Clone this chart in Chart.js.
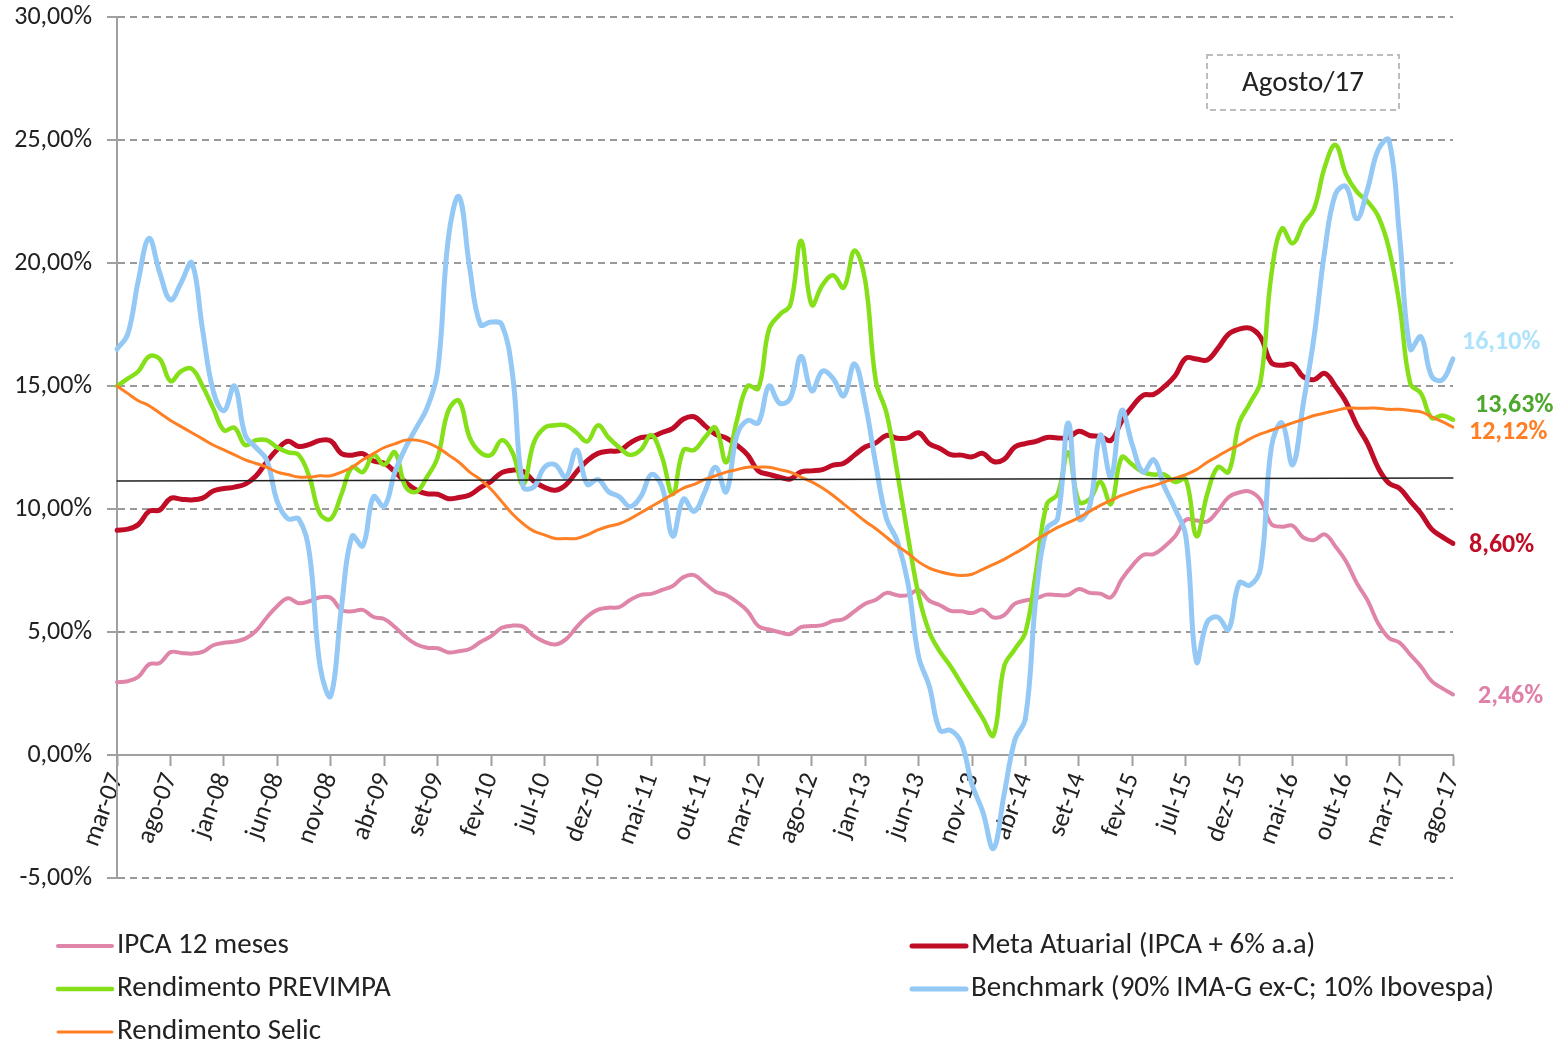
<!DOCTYPE html>
<html>
<head>
<meta charset="utf-8">
<script src="https://cdn.jsdelivr.net/npm/chart.js@4.4.1/dist/chart.umd.min.js"></script>
<style>
  html, body { margin: 0; padding: 0; background: #fff; }
  #wrap { width: 1561px; height: 1046px; }
</style>
</head>
<body>
<div id="wrap"><canvas id="grafico" width="1561" height="1046"></canvas></div>
<script>
// month labels mar-07 .. ago-17
const monthNames = ["jan", "fev", "mar", "abr", "mai", "jun", "jul", "ago", "set", "out", "nov", "dez"];
const months = [];
for (let i = 0; i < 126; i++) {
  const m = (2 + i) % 12;
  const y = 2007 + Math.floor((2 + i) / 12);
  months.push(monthNames[m] + "-" + String(y).slice(2));
}

const ipca = [
  2.96, 3.00, 3.18, 3.69, 3.74, 4.18, 4.15, 4.12, 4.19, 4.46,
  4.56, 4.61, 4.73, 5.04, 5.58, 6.06, 6.37, 6.17, 6.25, 6.41, 6.39, 5.90,
  5.84, 5.90, 5.61, 5.53, 5.20, 4.80, 4.50, 4.36, 4.34, 4.17, 4.22, 4.31,
  4.59, 4.83, 5.17, 5.26, 5.22, 4.84, 4.60, 4.49, 4.70, 5.20, 5.63, 5.91,
  5.99, 6.01, 6.30, 6.51, 6.55, 6.71, 6.87, 7.23, 7.31, 6.97, 6.64, 6.50,
  6.22, 5.85, 5.24, 5.10, 4.99, 4.92, 5.20, 5.24, 5.28, 5.45, 5.53, 5.84,
  6.15, 6.31, 6.59, 6.49, 6.50, 6.70, 6.27, 6.09, 5.86, 5.84, 5.77, 5.91,
  5.59, 5.68, 6.15, 6.28, 6.37, 6.52, 6.50, 6.51, 6.75, 6.59, 6.56, 6.41,
  7.14, 7.70, 8.13, 8.17, 8.47, 8.89, 9.56, 9.53, 9.49, 9.93, 10.48, 10.67,
  10.71, 10.36, 9.39, 9.28, 9.32, 8.84, 8.74, 8.97, 8.48, 7.87, 6.99, 6.29,
  5.35, 4.76, 4.57, 4.08, 3.60, 3.00, 2.71, 2.46
];

const metaAtuarial = [
  9.14, 9.18, 9.37, 9.91, 9.96, 10.43, 10.40, 10.37, 10.44, 10.73,
  10.83, 10.89, 11.01, 11.34, 11.91, 12.42, 12.75, 12.54, 12.63, 12.79, 12.77, 12.25,
  12.19, 12.25, 11.95, 11.86, 11.51, 11.09, 10.77, 10.62, 10.60, 10.42, 10.47, 10.57,
  10.87, 11.12, 11.48, 11.58, 11.53, 11.13, 10.88, 10.76, 10.98, 11.51, 11.97, 12.26,
  12.35, 12.37, 12.68, 12.90, 12.94, 13.11, 13.28, 13.66, 13.75, 13.39, 13.04, 12.89,
  12.59, 12.20, 11.55, 11.41, 11.29, 11.22, 11.51, 11.55, 11.60, 11.78, 11.86, 12.19,
  12.52, 12.69, 12.99, 12.88, 12.89, 13.10, 12.65, 12.46, 12.21, 12.19, 12.12, 12.26,
  11.93, 12.02, 12.52, 12.66, 12.75, 12.91, 12.89, 12.90, 13.16, 12.99, 12.95, 12.79,
  13.57, 14.16, 14.62, 14.66, 14.98, 15.42, 16.13, 16.10, 16.06, 16.53, 17.11, 17.31,
  17.35, 16.98, 15.95, 15.84, 15.88, 15.37, 15.26, 15.51, 14.99, 14.34, 13.41, 12.67,
  11.67, 11.05, 10.84, 10.32, 9.82, 9.18, 8.87, 8.60
];

const previmpa = [
  15.0, 15.3, 15.6, 16.2, 16.1, 15.2, 15.6, 15.7, 15.0, 14.1,
  13.2, 13.3, 12.6, 12.8, 12.8, 12.5, 12.3, 12.2, 11.3, 9.8,
  9.6, 10.6, 11.7, 11.5, 12.2, 11.8, 12.3, 10.9, 10.7, 11.3,
  12.1, 14.0, 14.4, 12.9, 12.3, 12.2, 12.8, 12.3, 11.0, 12.7,
  13.3, 13.4, 13.4, 13.1, 12.75, 13.4, 12.9, 12.5, 12.2, 12.4,
  13.0, 12.1, 10.6, 12.4, 12.4, 12.9, 13.3, 11.9, 13.6, 15.0,
  14.9, 17.3, 17.9, 18.3, 20.9, 18.3, 19.1, 19.5, 19.0, 20.5,
  19.3, 15.2, 13.9, 11.5, 8.9, 6.5, 5.0, 4.2, 3.6, 2.9,
  2.2, 1.5, 0.8, 3.6, 4.3, 5.0, 7.5, 10.2, 10.6, 12.3,
  10.3, 10.4, 11.1, 10.2, 12.1, 11.8, 11.5, 11.4, 11.4, 11.1,
  11.2, 8.9, 10.6, 11.7, 11.5, 13.5, 14.3, 15.2, 19.5, 21.4,
  20.8, 21.6, 22.2, 23.9, 24.8, 23.6, 22.9, 22.5, 21.9, 20.6,
  18.3, 15.1, 14.7, 13.7, 13.8, 13.63
];

const benchmark = [
  16.5, 17.1, 19.3, 21.0, 19.6, 18.5, 19.2, 20.0, 17.3, 14.8,
  14.0, 15.0, 13.0, 12.5, 12.0, 10.3, 9.6, 9.6, 8.2, 3.6,
  2.4, 6.0, 8.9, 8.5, 10.5, 10.1, 11.5, 12.5, 13.3, 14.1,
  15.6, 21.0, 22.7, 19.8, 17.5, 17.6, 17.5, 15.5, 10.9, 10.9,
  11.7, 11.8, 11.3, 12.4, 11.0, 11.2, 10.7, 10.5, 10.1, 10.5,
  11.4, 10.9, 8.9, 10.4, 9.9, 10.7, 11.7, 10.7, 13.0, 13.6,
  13.5, 15.0, 14.3, 14.5, 16.2, 14.8, 15.6, 15.3, 14.6, 15.9,
  14.3, 11.8, 9.6, 8.7, 7.0, 4.0, 2.8, 1.0, 1.0, 0.5,
  -1.2, -2.3, -3.8, -1.6, 0.6, 1.5, 6.5, 9.2, 9.6, 13.5,
  9.6, 10.1, 13.0, 11.3, 14.0, 12.6, 11.5, 12.0, 10.9, 10.0,
  8.9, 3.8, 5.4, 5.6, 5.1, 7.0, 6.9, 7.6, 12.5, 13.5,
  11.8, 14.3, 17.0, 20.5, 22.8, 23.1, 21.8, 23.0, 24.6, 25.0,
  21.1, 16.5, 17.0, 15.4, 15.25, 16.1
];

const selic = [
  15.0, 14.7, 14.4, 14.2, 13.9, 13.6, 13.35, 13.1, 12.85, 12.6,
  12.4, 12.2, 12.0, 11.85, 11.7, 11.5, 11.4, 11.3, 11.3, 11.35,
  11.35, 11.5, 11.7, 12.0, 12.25, 12.5, 12.65, 12.8, 12.8, 12.7,
  12.5, 12.2, 11.9, 11.5, 11.2, 10.8, 10.3, 9.8, 9.4, 9.1,
  8.95, 8.8, 8.8, 8.8, 8.95, 9.15, 9.3, 9.4, 9.6, 9.85,
  10.1, 10.35, 10.6, 10.85, 11.0, 11.2, 11.35, 11.5, 11.6, 11.7,
  11.7, 11.7, 11.6, 11.5, 11.3, 11.1, 10.85, 10.55, 10.2, 9.85,
  9.5, 9.2, 8.85, 8.5, 8.2, 7.85, 7.6, 7.45, 7.35, 7.3,
  7.35, 7.55, 7.75, 7.95, 8.2, 8.45, 8.75, 9.0, 9.25, 9.45,
  9.65, 9.9, 10.15, 10.35, 10.55, 10.7, 10.85, 10.95, 11.1, 11.25,
  11.4, 11.6, 11.9, 12.15, 12.4, 12.6, 12.85, 13.05, 13.2, 13.35,
  13.5, 13.65, 13.8, 13.9, 14.0, 14.1, 14.1, 14.1, 14.1, 14.05,
  14.05, 14.0, 13.95, 13.75, 13.55, 13.33
];

// linear trend line (black), start and end values
const trendStart = 11.14;
const trendEnd = 11.26;

// end-of-line value labels
const endLabels = ["2,46%", "8,60%", "13,63%", "16,10%", "12,12%"];

const fontFamily = "Carlito, Calibri, Lato, sans-serif";
Chart.defaults.font.family = fontFamily;
Chart.defaults.color = "#222";

function fmtPct(v) {
  return v.toFixed(2).replace(".", ",") + "%";
}

// value labels at the end of each series
const endLabelPlugin = {
  id: "endLabelPlugin",
  afterDatasetsDraw(chart) {
    const ctx = chart.ctx;
    const offsets = [
      { dx: 25, dy: 2, color: "#e07fa8" },
      { dx: 16, dy: 2, color: "#c00d27" },
      { dx: 22, dy: -14, color: "#4da72c" },
      { dx: 9, dy: -16, color: "#aee3fb" },
      { dx: 16, dy: 5, color: "#ff7f27" }
    ];
    ctx.save();
    ctx.font = "bold 26px " + fontFamily;
    ctx.textAlign = "left";
    ctx.textBaseline = "middle";
    for (let i = 0; i < 5; i++) {
      const meta = chart.getDatasetMeta(i);
      const pt = meta.data[meta.data.length - 1];
      ctx.fillStyle = offsets[i].color;
      ctx.fillText(endLabels[i], pt.x + offsets[i].dx, pt.y + offsets[i].dy);
    }
    ctx.restore();
  }
};

// "Agosto/17" dashed box
const boxPlugin = {
  id: "boxPlugin",
  afterDraw(chart) {
    const ctx = chart.ctx;
    ctx.save();
    ctx.strokeStyle = "#bdbdbd";
    ctx.lineWidth = 2;
    ctx.setLineDash([6, 4]);
    ctx.strokeRect(1207, 55, 192, 55);
    ctx.setLineDash([]);
    ctx.fillStyle = "#222";
    ctx.font = "29px " + fontFamily;
    ctx.textAlign = "center";
    ctx.textBaseline = "middle";
    ctx.fillText("Agosto/17", 1303, 84);
    ctx.restore();
  }
};

// two-column legend below the chart
const legendPlugin = {
  id: "legendPlugin",
  afterDraw(chart) {
    const ctx = chart.ctx;
    const cols = [58, 912];
    const rows = [946, 989, 1032];
    ctx.save();
    ctx.font = "29px " + fontFamily;
    ctx.textBaseline = "middle";
    ctx.textAlign = "left";
    for (let i = 0; i < 5; i++) {
      const ds = chart.data.datasets[i];
      const x = cols[i % 2];
      const y = rows[Math.floor(i / 2)];
      ctx.strokeStyle = ds.borderColor;
      ctx.lineWidth = ds.borderWidth;
      ctx.lineCap = "round";
      ctx.beginPath();
      ctx.moveTo(x, y);
      ctx.lineTo(x + 54, y);
      ctx.stroke();
      ctx.fillStyle = "#222";
      ctx.fillText(ds.label, x + 59, y);
    }
    ctx.restore();
  }
};

const canvas = document.getElementById("grafico").getContext("2d");

new Chart(canvas, {
  type: "line",
  data: {
    labels: months,
    datasets: [
      { label: "IPCA 12 meses", data: ipca, borderColor: "#e085aa", borderWidth: 4, order: 5 },
      { label: "Meta Atuarial (IPCA + 6% a.a)", data: metaAtuarial, borderColor: "#c00d27", borderWidth: 5, order: 4 },
      { label: "Rendimento PREVIMPA", data: previmpa, borderColor: "#85e01a", borderWidth: 4.5, order: 3 },
      { label: "Benchmark (90% IMA-G ex-C; 10% Ibovespa)", data: benchmark, borderColor: "#94c9f5", borderWidth: 5, order: 2 },
      { label: "Rendimento Selic", data: selic, borderColor: "#ff8024", borderWidth: 3, order: 1 },
      {
        label: "Tendência",
        data: [{ x: months[0], y: trendStart }, { x: months[months.length - 1], y: trendEnd }],
        borderColor: "#222",
        borderWidth: 1.5,
        tension: 0,
        order: 0
      }
    ]
  },
  options: {
    responsive: false,
    animation: false,
    devicePixelRatio: 1,
    layout: { padding: { left: 0, top: 17, right: 108, bottom: 168 } },
    elements: {
      point: { radius: 0 },
      line: { tension: 0.4, fill: false, borderCapStyle: "round", borderJoinStyle: "round" }
    },
    plugins: {
      legend: { display: false },
      tooltip: { enabled: false }
    },
    scales: {
      x: {
        type: "category",
        position: { y: 0 },
        offset: false,
        grid: {
          display: true,
          drawOnChartArea: false,
          drawTicks: true,
          tickLength: 10,
          tickWidth: 2,
          tickColor: (c) => (c.index % 5 === 0 ? "#a0a0a0" : "rgba(0,0,0,0)")
        },
        border: { display: true, color: "#a0a0a0", width: 2 },
        ticks: {
          autoSkip: false,
          minRotation: 70,
          maxRotation: 70,
          padding: 4,
          color: "#222",
          font: { size: 26 },
          callback: (val, idx) => (idx % 5 === 0 ? months[idx] : "")
        }
      },
      y: {
        min: -5,
        max: 30,
        afterFit: (scale) => {
          scale.width = 117;
          scale.paddingTop = 0;
          scale.paddingBottom = 0;
        },
        grid: {
          color: (c) => (c.tick && c.tick.value === 0 ? "rgba(0,0,0,0)" : "#999"),
          lineWidth: 2,
          tickLength: 10,
          tickColor: "#a0a0a0",
          tickBorderDash: [],
          tickWidth: 2
        },
        border: { display: true, color: "#a0a0a0", width: 2, dash: [7, 5] },
        ticks: {
          stepSize: 5,
          padding: 15,
          color: "#222",
          font: { size: 26 },
          callback: (v) => fmtPct(v)
        }
      }
    }
  },
  plugins: [endLabelPlugin, boxPlugin, legendPlugin]
});
</script>
</body>
</html>
